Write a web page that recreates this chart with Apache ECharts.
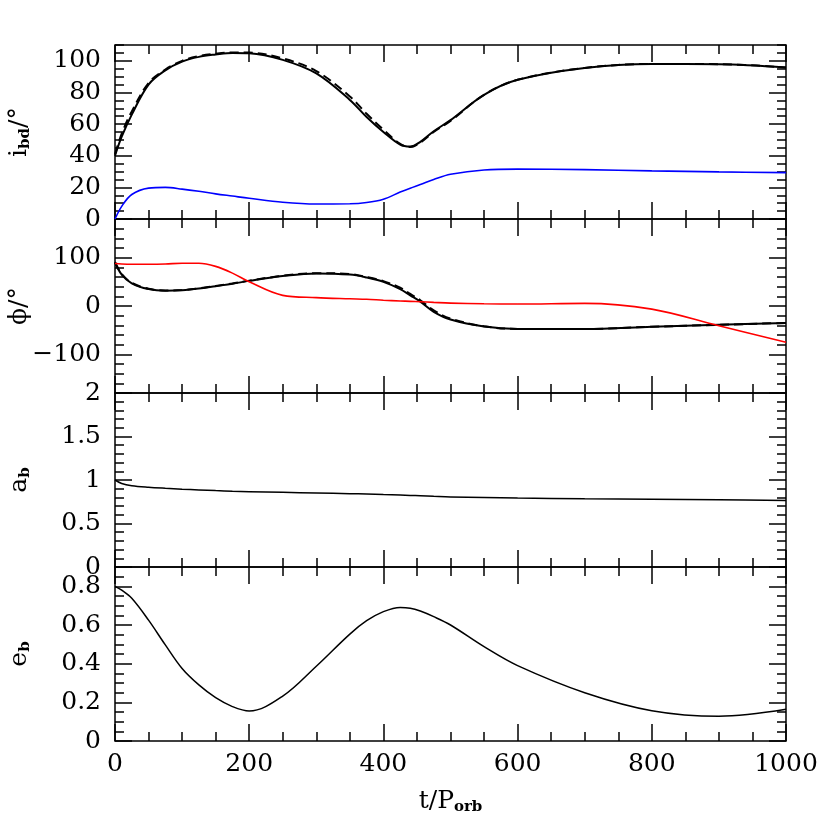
<!DOCTYPE html>
<html>
<head>
<meta charset="utf-8">
<script src="https://cdn.jsdelivr.net/npm/echarts@6/dist/echarts.min.js"></script>
<style>
  html, body { margin: 0; padding: 0; background: #fff; }
  #chart { width: 830px; height: 830px; }
</style>
</head>
<body>
<div id="chart"></div>
<script>
// time samples (t / P_orb)
const T = [0, 10, 25, 50, 75, 100, 125, 150, 175, 200, 250, 300, 350, 375, 400, 425, 440, 455, 475, 500, 550, 600, 700, 800, 900, 1000]

// panel 1: i_bd
const inclSolid = [40, 52, 66, 85, 94, 99.5, 102.5, 104, 105, 104.8, 100.6, 92, 75.3, 64.5, 55, 47, 45.8, 48.8, 55.5, 62.5, 78.5, 88, 95.5, 98, 97.9, 95.8]
const inclDash = [41, 54, 68, 86, 94.5, 100, 103, 104.5, 105.3, 105.2, 101.5, 93.5, 77.5, 66.5, 56.5, 47.5, 45.5, 48.3, 55, 62, 78.5, 88, 95.5, 98, 97.9, 95.8]
const inclBlue = [0, 8, 15.5, 19.5, 20, 18.9, 17.5, 15.9, 14.5, 13.1, 10.6, 9.5, 9.6, 10.4, 12.5, 17, 19.5, 21.8, 25, 28.3, 31, 31.5, 31.2, 30.4, 29.8, 29.3]

// panel 2: phi
const phiSolid = [90, 65, 47, 35, 31.5, 32.5, 36, 41, 46, 52, 62, 67.5, 65, 59, 50, 35, 22, 9, -12, -28, -42.5, -47.5, -47.5, -43, -39, -35]
const phiDash = [91, 66, 48, 35.5, 32, 33, 36.5, 41.5, 46.5, 52.5, 62.5, 68, 66, 60, 51.5, 38, 25, 12, -9, -26, -42, -47.5, -47.5, -43, -39, -35]
const phiRed = [88, 87, 86.5, 86.5, 87, 88.5, 88.5, 82, 68, 50, 22, 17.4, 15, 14, 12, 10.4, 9.6, 8.8, 7.5, 6, 4.5, 4, 5.5, -6.5, -41, -75]

// panel 3: a_b
const aB = [1.0, 0.96, 0.935, 0.917, 0.905, 0.895, 0.886, 0.878, 0.871, 0.866, 0.858, 0.85, 0.843, 0.838, 0.832, 0.827, 0.823, 0.819, 0.813, 0.806, 0.798, 0.792, 0.784, 0.778, 0.772, 0.765]

// panel 4: e_b
const eB = [0.80, 0.78, 0.738, 0.625, 0.497, 0.375, 0.29, 0.224, 0.178, 0.155, 0.232, 0.387, 0.553, 0.622, 0.669, 0.691, 0.687, 0.672, 0.643, 0.600, 0.488, 0.39, 0.25, 0.157, 0.128, 0.164]

// tick labels
const xTicks = [0, 200, 400, 600, 800, 1000]
const yTicks1 = [0, 20, 40, 60, 80, 100]
const yTicks2 = [-100, 0, 100]
const yTicks3 = [0, 0.5, 1, 1.5, 2]
const yTicks4 = [0, 0.2, 0.4, 0.6, 0.8]

const FONT = 'DejaVu Serif'

function steps(a, b, d) {
  const out = []
  const n = Math.round((b - a) / d)
  for (let i = 0; i <= n; i++) out.push(Math.round((a + i * d) * 1000) / 1000)
  return out
}

const panels = [
  { min: 0, max: 110, major: yTicks1, minor: steps(0, 110, 5), name: '{m|i}{s|bd}{m|/°}' },
  { min: -180, max: 180, major: yTicks2, minor: steps(-180, 180, 20), name: '{m|ϕ/°}' },
  { min: 0, max: 2, major: yTicks3, minor: steps(0, 2, 0.1), name: '{m|a}{s|b}' },
  { min: 0, max: 0.9, major: yTicks4, minor: steps(0, 0.9, 0.05), name: '{m|e}{s|b}' }
]
const xMinor = steps(0, 1000, 50)

const rich = {
  m: { fontFamily: FONT, fontSize: 25, color: '#000', lineHeight: 28, verticalAlign: 'middle' },
  s: { fontFamily: FONT, fontSize: 15, fontWeight: 'bold', color: '#000', lineHeight: 15, verticalAlign: 'bottom' }
}

const numFmt = v => (v < 0 ? '−' + Math.abs(v) : String(v))

const grids = []
const xAxes = []
const yAxes = []
panels.forEach((p, g) => {
  grids.push({
    left: 115, width: 671, top: 45 + g * 174, height: 174,
    outerBoundsMode: 'none', containLabel: false,
    show: true, borderColor: '#000', borderWidth: 1.5
  })
  ;['bottom', 'top'].forEach(pos => {
    [true, false].forEach(major => {
      const labelled = g === 3 && pos === 'bottom' && major
      const ax = {
        type: 'value', gridIndex: g, position: pos, min: 0, max: 1000,
        axisLine: { show: false, onZero: false }, splitLine: { show: false },
        axisTick: { show: true, inside: true, length: major ? 17 : 9, customValues: major ? xTicks : xMinor, lineStyle: { color: '#000', width: 1.5 } },
        axisLabel: { show: labelled, customValues: xTicks, color: '#000', fontFamily: FONT, fontSize: 25, margin: 11, formatter: numFmt }
      }
      if (labelled) {
        ax.name = '{m|t/P}{s|orb}'
        ax.nameLocation = 'middle'
        ax.nameGap = 46
        ax.nameMoveOverlap = false
        ax.nameTextStyle = { rich: rich }
      }
      xAxes.push(ax)
    })
  })
  ;['left', 'right'].forEach(pos => {
    [true, false].forEach(major => {
      const labelled = pos === 'left' && major
      const ax = {
        type: 'value', gridIndex: g, position: pos, min: p.min, max: p.max,
        axisLine: { show: false, onZero: false }, splitLine: { show: false },
        axisTick: { show: true, inside: true, length: major ? 17 : 9, customValues: major ? p.major : p.minor, lineStyle: { color: '#000', width: 1.5 } },
        axisLabel: { show: labelled, customValues: p.major, color: '#000', fontFamily: FONT, fontSize: 25, margin: 14, formatter: numFmt }
      }
      if (labelled) {
        ax.name = p.name
        ax.nameLocation = 'middle'
        ax.nameGap = 82
        ax.nameRotate = 90
        ax.nameMoveOverlap = false
        ax.nameTextStyle = { rich: rich }
      }
      yAxes.push(ax)
    })
  })
})

function pairs(arr) { return T.map((t, i) => [t, arr[i]]) }

function line(g, data, color, width, type) {
  return {
    type: 'line', xAxisIndex: g * 4, yAxisIndex: g * 4, data: pairs(data),
    smooth: 0.35, showSymbol: false, silent: true,
    lineStyle: { color: color, width: width, type: type || 'solid' }
  }
}

const chart = echarts.init(document.getElementById('chart'))
chart.setOption({
  animation: false,
  backgroundColor: '#fff',
  grid: grids,
  xAxis: xAxes,
  yAxis: yAxes,
  series: [
    line(0, inclDash, '#000', 2, [9, 5]),
    line(0, inclSolid, '#000', 2),
    line(0, inclBlue, '#0000ff', 1.6),
    line(1, phiDash, '#000', 2, [9, 5]),
    line(1, phiSolid, '#000', 2),
    line(1, phiRed, '#ff0000', 1.6),
    line(2, aB, '#000', 1.5),
    line(3, eB, '#000', 1.5)
  ]
})
</script>
</body>
</html>
